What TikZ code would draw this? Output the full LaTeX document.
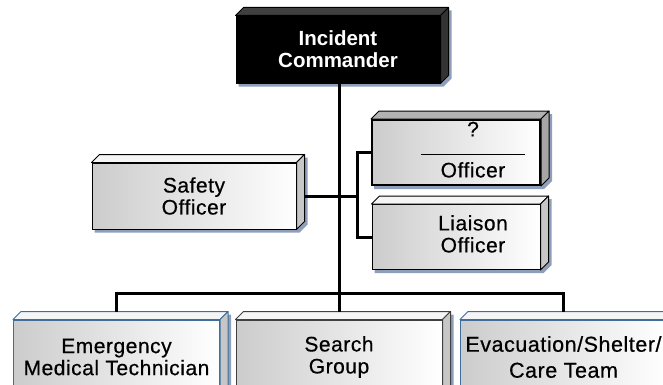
\documentclass[tikz,border=0pt]{standalone}
\usepackage{fontspec}
\setmainfont{Liberation Sans}
\newfontfamily\boxfont{Liberation Sans}[FakeBold=0.5, LetterSpace=2.5]
\usetikzlibrary{positioning, backgrounds}
\definecolor{shadowblue}{HTML}{8E9FBC}
\definecolor{frameblue}{HTML}{3F6E9C}
\definecolor{officergray}{HTML}{B2B2B2}
\tikzset{
	boxbase/.style={rectangle, draw=black, line width=1pt, align=center, inner sep=0pt, font=\boxfont\fontsize{21}{22}\selectfont},
	lightbox/.style={boxbase, left color=black!20, right color=white, minimum width=204pt, minimum height=66pt},
	staffbox/.style={lightbox, minimum width=168pt, minimum height=65pt},
	unitbox/.style={lightbox, minimum width=206pt, minimum height=74pt, draw=frameblue},
	link/.style={line width=3pt, black}
}
% texto desplazado a la derecha
\newcommand{\offtext}[1]{\hspace*{34pt}\begin{tabular}{@{}c@{}}#1\end{tabular}}

\begin{document}
\begin{tikzpicture}[x=1pt, y=1pt]
		\useasboundingbox (0,0) rectangle (663,384);
		% Mando
		\node (commander) [boxbase, fill=black, text=white, minimum width=204pt, minimum height=67pt, font=\fontsize{20.5}{22}\selectfont\bfseries] at (338,334.5) {Incident\\Commander};
		
		% Staff
		\node (safety) [lightbox] at (194,188) {Safety\\Officer};
		\node (pio) [staffbox, fill=officergray, line width=2pt] at (456,231.5) {\offtext{?\\[-3pt]\rule{104pt}{1.8pt}\\Officer}};
		\node (liaison) [staffbox] at (456,147) {\offtext{Liaison\\Officer}};
		
		% Unidades
		\node (emt) [unitbox] at (116.5,27) {Emergency\\Medical Technician};
		\node (search) [unitbox, draw=black!75] at (339,27) {Search\\Group};
		\node (evac) [unitbox, font=\boxfont\fontsize{21.5}{26}\selectfont] at (563.5,27) {Evacuation/Shelter/\\Care Team};
		
		% Caras 3D y sombras
		\foreach \n/\edge/\topc/\sidec in {commander/black/black!75/black!80, safety/black/black!4/black!22, pio/black/officergray/black!35, liaison/black/black!4/black!22, emt/frameblue/black!4/black!22, search/black!75/black!4/black!22, evac/frameblue/black!4/black!22} {
			\begin{pgfonlayer}{background}
				\fill[shadowblue] ([shift={(3,-3)}]\n.south west) -- ([shift={(3,-3)}]\n.south east) -- ([shift={(11,5)}]\n.south east) -- ([shift={(11,5)}]\n.north east) -- ([shift={(11,5)}]\n.north west) -- ([shift={(3,-3)}]\n.north west) -- cycle;
			\end{pgfonlayer}
			\filldraw[fill=\topc, draw=\edge, line width=1pt, line join=round] (\n.north west) -- ++(8,8) -- ([shift={(8,8)}]\n.north east) -- (\n.north east) -- cycle;
			\filldraw[fill=\sidec, draw=\edge, line width=1pt, line join=round] (\n.north east) -- ++(8,8) -- ([shift={(8,8)}]\n.south east) -- (\n.south east) -- cycle;
		}
		
		% Conexiones
		\coordinate (bar) at (0,91);
		\coordinate (brk) at (357,0);
		\draw [link] (commander.south -| search.north) -- ([yshift=8pt]search.north);
		\draw [link] ([yshift=8pt]emt.north) -- (emt.north |- bar) -- (evac.north |- bar) -- ([yshift=8pt]evac.north);
		\draw [link] ([xshift=8pt]safety.east) -- (safety.east -| brk);
		\draw [link] (pio.west) -- (pio.west -| brk) |- (liaison.west);
\end{tikzpicture}
\end{document}
